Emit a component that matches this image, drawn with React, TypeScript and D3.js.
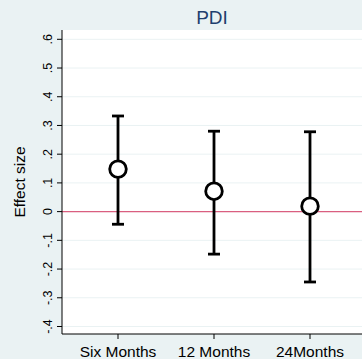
import React from "react";
import * as d3 from "d3";

const categories = ["Six Months", "12 Months", "24Months"];
const estimates = [0.148, 0.071, 0.019];
const lower = [-0.044, -0.148, -0.245];
const upper = [0.333, 0.28, 0.278];
const yTicks = [-0.4, -0.3, -0.2, -0.1, 0, 0.1, 0.2, 0.3, 0.4, 0.5, 0.6];
const yTickLabels = ["-.4", "-.3", "-.2", "-.1", "0", ".1", ".2", ".3", ".4", ".5", ".6"];

const W = 362, H = 359;

export default function App() {
  const y = d3.scaleLinear().domain([-0.4, 0.6]).range([326.5, 39.3]);
  const x = d3.scalePoint<string>().domain(categories).range([118, 310]);
  const left = 62, top = 30, bottom = 334, right = 362;
  const font = "Arial, 'Liberation Sans', sans-serif";
  return (
    <svg width={W} height={H} style={{ position: "absolute", left: 0, top: 0 }}>
      <rect x={0} y={0} width={W} height={H} fill="#EAF2F3" />
      <rect x={left} y={top} width={right - left} height={bottom - top} fill="#FFFFFF" />
      {yTicks.map((t, i) => (
        <line key={"g" + i} x1={left} x2={right} y1={y(t)} y2={y(t)} stroke="#EAF2F3" strokeWidth={1} />
      ))}
      <line x1={left} x2={right} y1={y(0)} y2={y(0)} stroke="#DA5F80" strokeWidth={1.4} />
      {categories.map((c, i) => {
        const cx = x(c)!;
        return (
          <g key={c}>
            <line x1={cx} x2={cx} y1={y(upper[i])} y2={y(lower[i])} stroke="#000" strokeWidth={2.8} />
            <line x1={cx - 6} x2={cx + 6} y1={y(upper[i])} y2={y(upper[i])} stroke="#000" strokeWidth={2.8} />
            <line x1={cx - 6} x2={cx + 6} y1={y(lower[i])} y2={y(lower[i])} stroke="#000" strokeWidth={2.8} />
            <circle cx={cx} cy={y(estimates[i])} r={8.3} fill="#FFFFFF" stroke="#000" strokeWidth={2.8} />
          </g>
        );
      })}
      <line x1={left} x2={left} y1={top} y2={bottom} stroke="#000" strokeWidth={1} />
      <line x1={left} x2={right} y1={bottom} y2={bottom} stroke="#000" strokeWidth={1} />
      {yTicks.map((t, i) => (
        <g key={"t" + i}>
          <line x1={left - 5} x2={left} y1={y(t)} y2={y(t)} stroke="#000" strokeWidth={1} />
          <text
            transform={`translate(51.5,${y(t)}) rotate(-90)`}
            textAnchor="middle"
            fontFamily={font}
            fontSize={12.5}
            fill="#000"
          >
            {yTickLabels[i]}
          </text>
        </g>
      ))}
      {categories.map((c) => (
        <g key={"x" + c}>
          <line x1={x(c)!} x2={x(c)!} y1={bottom} y2={bottom + 5} stroke="#000" strokeWidth={1} />
          <text x={x(c)!} y={357} textAnchor="middle" fontFamily={font} fontSize={15.5} fill="#000">
            {c}
          </text>
        </g>
      ))}
      <text
        transform={`translate(25,${(top + bottom) / 2}) rotate(-90)`}
        textAnchor="middle"
        fontFamily={font}
        fontSize={15.5}
        fill="#000"
      >
        Effect size
      </text>
      <text x={212} y={24} textAnchor="middle" fontFamily={font} fontSize={19} fill="#1E3F6E">
        PDI
      </text>
    </svg>
  );
}
